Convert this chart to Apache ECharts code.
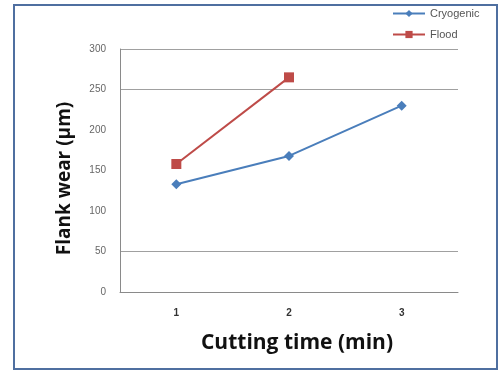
<!DOCTYPE html>
<html>
<head>
<meta charset="utf-8">
<script src="https://cdn.jsdelivr.net/npm/echarts@6/dist/echarts.min.js"></script>
<style>
  html, body { margin: 0; padding: 0; background: #fff; }
  #chart { width: 499px; height: 372px; }
</style>
</head>
<body>
<div id="chart"></div>
<script>
// data
const cuttingTime = ['1', '2', '3'];
const cryogenic = [133, 168, 230];
const flood = [158, 265, null];
// only some gridlines show in the reference (0, 50, 250, 300)
const gridColors = ['#a0a0a0', '#a0a0a0', 'transparent', 'transparent', 'transparent', '#a0a0a0', '#a0a0a0'];

const myChart = echarts.init(document.getElementById('chart'));

const option = {
  animation: false,
  graphic: [
    {
      type: 'rect',
      shape: { x: 14, y: 5, width: 483, height: 364 },
      style: { fill: 'none', stroke: '#4f6fa0', lineWidth: 2 }
    }
  ],
  legend: {
    orient: 'vertical',
    left: 387,
    top: 3,
    itemWidth: 32,
    itemHeight: 9,
    itemGap: 10,
    textStyle: { fontFamily: 'Liberation Sans', fontSize: 11, color: '#555' },
    data: ['Cryogenic', 'Flood']
  },
  grid: {
    left: 120,
    top: 49,
    width: 338,
    height: 243
  },
  xAxis: {
    type: 'category',
    data: cuttingTime,
    boundaryGap: true,
    name: 'Cutting time (min)',
    nameLocation: 'middle',
    nameGap: 41,
    nameTextStyle: { fontFamily: 'Open Sans', fontWeight: 'bold', fontSize: 21, color: '#111', padding: [0, 0, 0, 16] },
    axisLine: { lineStyle: { color: '#8a8a8a' } },
    axisTick: { show: false },
    axisLabel: { margin: 16, fontFamily: 'Liberation Sans', fontWeight: 'bold', fontSize: 10, color: '#333' }
  },
  yAxis: {
    type: 'value',
    min: 0,
    max: 300,
    interval: 50,
    name: 'Flank wear (μm)',
    nameLocation: 'middle',
    nameGap: 46,
    nameTextStyle: { fontFamily: 'Open Sans', fontWeight: 'bold', fontSize: 19, color: '#111', padding: [0, 16, 0, 0] },
    axisLine: { show: true, lineStyle: { color: '#8a8a8a' } },
    axisTick: { show: false },
    axisLabel: { margin: 14, fontFamily: 'Liberation Sans', fontSize: 10, color: '#666' },
    splitLine: { lineStyle: { color: gridColors, width: 1 } }
  },
  series: [
    {
      name: 'Cryogenic',
      type: 'line',
      data: cryogenic,
      symbol: 'diamond',
      symbolSize: 10,
      lineStyle: { color: '#4a7ebb', width: 2 },
      itemStyle: { color: '#4a7ebb' }
    },
    {
      name: 'Flood',
      type: 'line',
      data: flood,
      symbol: 'rect',
      symbolSize: 10,
      lineStyle: { color: '#be4b48', width: 2 },
      itemStyle: { color: '#be4b48' }
    }
  ]
};

option && myChart.setOption(option);
</script>
</body>
</html>
